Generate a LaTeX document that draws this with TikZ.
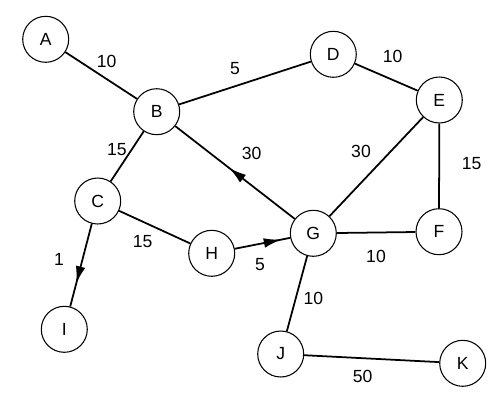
\documentclass[tikz,border=0pt]{standalone}
\usepackage{fontspec}
\setmainfont{Liberation Sans}
\usepackage{tikz}
\usetikzlibrary{arrows.meta,decorations.markings}

\begin{document}
\begin{tikzpicture}[x=0.02cm, y=-0.02cm,
        line/.style = {draw = black, line width = 1pt},
        vertex/.style = {draw, circle, line width = 0.6pt, fill = white,
            minimum size = 0.92cm, inner sep = 0pt,
            font = \fontsize{10}{12}\selectfont},
        weight/.style = {inner sep = 0pt, font = \fontsize{10}{12}\selectfont},
        arrowat/.style = {postaction = {decorate}, decoration = {markings,
            mark = at position #1 with {\arrow{Latex[length=10pt,width=5.5pt]}}}}]
        \useasboundingbox (0,0) rectangle (500,400);
        \foreach \name/\x/\y in {A/45.7/39.3, B/156.7/111.7, C/97.7/201,
                D/333.3/54.3, E/439.3/100, F/439/231.7, G/313.3/233.3,
                H/211.7/253.3, I/64.3/329.3, J/280.7/354, K/462.7/363.3}
            \path node[vertex] (\name) at (\x,\y) {\name};
        \foreach \a/\b in {A/B, B/D, D/E, B/C, E/G, E/F, C/H, G/F, G/J, J/K}
            \path[line] (\a) -- (\b);
        \foreach \a/\b/\p in {G/B/0.55, H/G/0.84, C/I/0.725}
            \path[line, arrowat=\p] (\a) -- (\b);
        \foreach \x/\y/\w [count=\n] in {106.7/61.7/10, 235/68.3/5,
                392.7/56.7/10, 117/150/15, 251.7/153.3/30, 361/151/30,
                471.7/164/15, 142.7/241.7/15, 260/265/5, 376/256/10,
                59/259.3/1, 313.3/298.3/10, 362.7/376.7/50}
            \path node[weight] (w\n) at (\x,\y) {\w};
    \end{tikzpicture}
\end{document}
